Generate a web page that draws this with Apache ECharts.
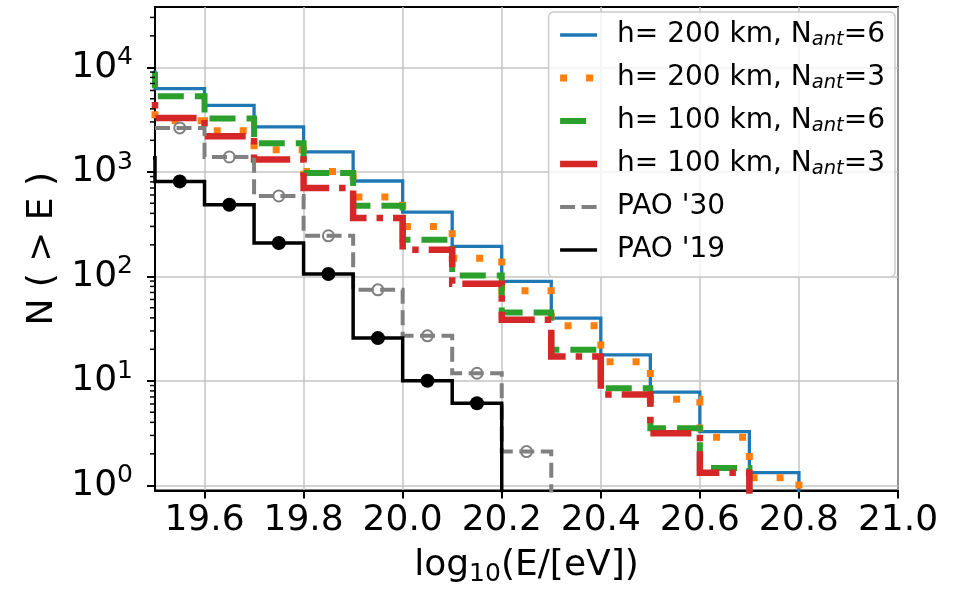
<!DOCTYPE html>
<html>
<head>
<meta charset="utf-8">
<script src="https://cdn.jsdelivr.net/npm/echarts@6/dist/echarts.min.js"></script>
<style>
  html, body { margin: 0; padding: 0; background: #fff; }
  #chart { width: 955px; height: 589px; }
</style>
</head>
<body>
<div id="chart"></div>
<script>
// Bin edges in log10(E/eV); the last entry closes the final bin.
const binEdges = [19.4, 19.5, 19.6, 19.7, 19.8, 19.9, 20.0, 20.1, 20.2, 20.3, 20.4, 20.5, 20.6, 20.7, 20.8];

// Integral event counts N(>E) per bin (0 = nothing left above that energy).
const h200n6 = [9000, 6250, 4325, 2686, 1548, 816, 412, 193, 89.2, 39.8, 17.7, 7.78, 3.26, 1.32];
const h200n3 = [4000, 3085, 2476, 1629, 1009, 574, 300, 149, 72.6, 33.6, 15.2, 6.66, 2.88, 1.18];
const h100n6 = [8500, 5275, 3227, 1871, 974, 474, 224, 102, 45.0, 19.8, 8.46, 3.52, 1.46, 0];
const h100n3 = [4800, 3275, 2183, 1314, 700, 361, 179, 84.8, 38.3, 17.1, 7.41, 3.15, 1.32, 0];
const pao30  = [null, 2630, 1386, 587, 244, 74.2, 26.9, 11.8, 2.1, 0, 0, 0, 0, 0];
const pao19  = [1360, 809, 484, 208, 105, 25.6, 10.0, 6.1, 0, 0, 0, 0, 0, 0];

const seriesNames = [
  'h= 200 km, Nant=6',
  'h= 200 km, Nant=3',
  'h= 100 km, Nant=6',
  'h= 100 km, Nant=3',
  "PAO '30",
  "PAO '19"
];

const xTicks = [19.6, 19.8, 20.0, 20.2, 20.4, 20.6, 20.8, 21.0];
const yTicks = [1, 10, 100, 1000, 10000];

const X_MIN = 19.5, X_MAX = 21.0;
const Y_MIN = Math.pow(10, -0.05), Y_MAX = Math.pow(10, 4.577);
const ZERO_LEVEL = 0.01; // an empty bin sits below the frame on the log axis

const FONT = 'DejaVu Sans';

// Histogram outline: each bin's lower edge carries its count, the line holds it to the next edge.
function stepPoints(values) {
  const pts = [];
  for (let i = 0; i < values.length; i++) {
    const v = values[i];
    if (v === null) continue;
    if (v === 0) { pts.push([binEdges[i], ZERO_LEVEL]); return pts; }
    pts.push([binEdges[i], v]);
  }
  pts.push([binEdges[values.length], ZERO_LEVEL]);
  return pts;
}

// Markers at bin centres.
function binMarkers(values) {
  const pts = [];
  values.forEach((v, i) => {
    if (v !== null && v > 0 && binEdges[i] >= X_MIN) pts.push([(binEdges[i] + binEdges[i + 1]) / 2, v]);
  });
  return pts;
}

// Log minor ticks 2..9 x 10^k inside the axis range.
const minorTickValues = [];
yTicks.forEach(d => { for (let m = 2; m <= 9; m++) if (m * d <= Y_MAX) minorTickValues.push(m * d); });

function stepSeries(name, values, color, width, dash, z) {
  return {
    name: name, type: 'line', step: 'end', data: stepPoints(values),
    symbol: 'none', showSymbol: false, silent: true, animation: false, z: z,
    lineStyle: { color: color, width: width, type: dash, cap: 'butt', join: 'miter' },
    itemStyle: { color: color }
  };
}

const chart = echarts.init(document.getElementById('chart'), null, { renderer: 'canvas' });

chart.setOption({
  animation: false,
  backgroundColor: '#fff',
  grid: {
    left: 155, right: 57, top: 7, bottom: 98.5,
    show: true, borderColor: '#000', borderWidth: 2, backgroundColor: '#fff',
    containLabel: false, outerBoundsMode: 'none'
  },
  xAxis: {
    type: 'value', min: X_MIN, max: X_MAX,
    name: 'log{sub|10}(E/[eV])', nameLocation: 'middle', nameGap: 52,
    nameTextStyle: {
      fontFamily: FONT, fontSize: 36, color: '#000', lineHeight: 44,
      rich: { sub: { fontFamily: FONT, fontSize: 25, lineHeight: 20, verticalAlign: 'bottom' } }
    },
    axisLine: { show: true, onZero: false, lineStyle: { color: '#000', width: 2 } },
    axisTick: { show: true, inside: false, length: 8, lineStyle: { color: '#000', width: 2 }, customValues: xTicks },
    axisLabel: {
      show: true, margin: 12, fontFamily: FONT, fontSize: 36, color: '#000', lineHeight: 36,
      customValues: xTicks, formatter: v => v.toFixed(1)
    },
    splitLine: { show: true, lineStyle: { color: '#c4c4c4', width: 1.5 } }
  },
  yAxis: {
    type: 'log', logBase: 10, min: Y_MIN, max: Y_MAX,
    name: 'N ( > E )', nameLocation: 'middle', nameGap: 92, nameRotate: 90,
    nameTextStyle: { fontFamily: FONT, fontSize: 36, color: '#000' },
    axisLine: { show: true, onZero: false, lineStyle: { color: '#000', width: 2 } },
    axisTick: { show: true, inside: false, length: 8, lineStyle: { color: '#000', width: 2 }, customValues: yTicks },
    axisLabel: {
      show: true, margin: 22, fontFamily: FONT, fontSize: 36, color: '#000',
      customValues: yTicks,
      formatter: v => '{b|10}{s|' + Math.round(Math.log10(v)) + '}',
      rich: {
        b: { fontFamily: FONT, fontSize: 36, lineHeight: 44 },
        s: { fontFamily: FONT, fontSize: 25, lineHeight: 28, verticalAlign: 'top' }
      }
    },
    splitLine: { show: true, lineStyle: { color: '#c4c4c4', width: 1.5 } },
    minorTick: { show: false }
  },
  legend: {
    data: seriesNames,
    orient: 'vertical', right: 60, top: 12,
    padding: [8, 10, 12, 8],
    itemWidth: 37, itemHeight: 14, itemGap: 13,
    backgroundColor: 'rgba(255,255,255,0.8)',
    borderColor: '#cccccc', borderWidth: 1.5, borderRadius: 5,
    selectedMode: false,
    lineStyle: { width: 'inherit' },
    itemStyle: { opacity: 0 },
    formatter: name => name.replace('ant', '{sub|ant}'),
    textStyle: {
      fontFamily: FONT, fontSize: 28, color: '#000', lineHeight: 30, padding: [0, 0, 0, 15],
      rich: { sub: { fontFamily: FONT, fontSize: 19.5, fontStyle: 'italic', lineHeight: 16, verticalAlign: 'bottom' } }
    }
  },
  series: [
    stepSeries(seriesNames[0], h200n6, '#1f77b4', 3.3, 'solid', 2),
    stepSeries(seriesNames[1], h200n3, '#ff7f0e', 7, [7, 19], 3),
    stepSeries(seriesNames[2], h100n6, '#2ca02c', 6, [26, 11], 4),
    stepSeries(seriesNames[3], h100n3, '#d62728', 6.5, [41, 10, 6.5, 10], 5),
    stepSeries(seriesNames[4], pao30, '#808080', 4, [15, 6.5], 6),
    stepSeries(seriesNames[5], pao19, '#000000', 3.5, 'solid', 8),
    {
      name: "PAO '30 bins", type: 'scatter', data: binMarkers(pao30), z: 7,
      symbol: 'circle', symbolSize: 11, silent: true, animation: false,
      itemStyle: { color: 'rgba(0,0,0,0)', borderColor: '#808080', borderWidth: 2, opacity: 1 }
    },
    {
      name: "PAO '19 bins", type: 'scatter', data: binMarkers(pao19), z: 9,
      symbol: 'circle', symbolSize: 14, silent: true, animation: false,
      itemStyle: { color: '#000', opacity: 1 }
    },
    {
      name: 'minor ticks', type: 'custom', silent: true, animation: false, clip: false, z: 10,
      data: minorTickValues.map(v => [X_MIN, v]),
      renderItem: (params, api) => {
        const p = api.coord([api.value(0), api.value(1)]);
        return {
          type: 'line',
          shape: { x1: p[0] - 5, y1: p[1], x2: p[0], y2: p[1] },
          style: { stroke: '#000', lineWidth: 1.5 }
        };
      }
    }
  ]
});
</script>
</body>
</html>
